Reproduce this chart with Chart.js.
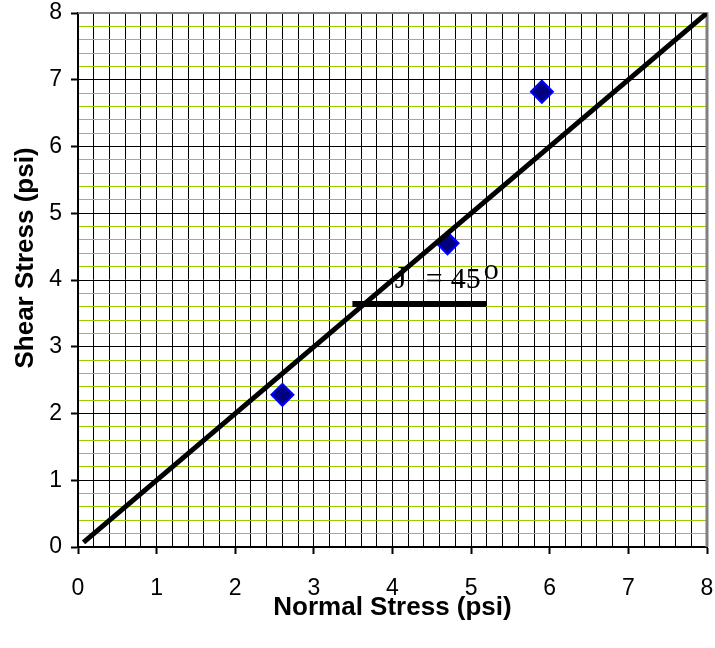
<!DOCTYPE html>
<html>
<head>
<meta charset="utf-8">
<script src="https://cdn.jsdelivr.net/npm/chart.js@4/dist/chart.umd.min.js"></script>
<style>
html,body{margin:0;padding:0;background:#fff;}
#wrap{width:715px;height:648px;}
</style>
</head>
<body>
<div id="wrap"><canvas id="c" width="715" height="648"></canvas></div>
<script>
// ---- data ----
const normalStress = [2.6, 4.7, 5.9];
const shearStress = [2.28, 4.55, 6.82];
const fitLineX = [0.07, 8];
const fitLineY = [0.07, 8];
const angleBarX = [3.49, 5.19];
const angleBarY = [3.64, 3.64];
const axisMin = 0, axisMax = 8, minorStep = 0.2;
const angleLabelPos = [4.03, 3.88];
const angleLabelText = ['J', '=', '45', 'o'];
const xTitle = 'Normal Stress (psi)';
const yTitle = 'Shear Stress (psi)';

const toPts = (xs, ys) => xs.map((x, i) => ({x: x, y: ys[i]}));
const isMajor = v => Math.abs(v - Math.round(v)) < 1e-6;

const tickFont = {family: '"Liberation Sans", Arial, sans-serif', size: 23, lineHeight: 1};
const titleFont = {family: '"Liberation Sans", Arial, sans-serif', size: 26, weight: 'bold'};

const frame = {
  id: 'frame',
  beforeDatasetsDraw(chart) {
    const {ctx, chartArea: a} = chart;
    ctx.save();
    ctx.strokeStyle = '#808080';
    ctx.lineWidth = 2;
    ctx.beginPath();
    ctx.moveTo(a.left, a.top);
    ctx.lineTo(a.right, a.top);
    ctx.stroke();
    ctx.lineWidth = 3;
    ctx.beginPath();
    ctx.moveTo(a.right, a.top - 1);
    ctx.lineTo(a.right, a.bottom);
    ctx.stroke();
    ctx.restore();
  },
  afterDatasetsDraw(chart) {
    const {ctx, scales, chartArea: a} = chart;
    const px = scales.x.getPixelForValue(angleLabelPos[0]);
    const py = scales.y.getPixelForValue(angleLabelPos[1]);
    ctx.save();
    ctx.fillStyle = '#000';
    ctx.textBaseline = 'alphabetic';
    ctx.textAlign = 'left';
    ctx.font = '31px "Liberation Serif", "Times New Roman", serif';
    ctx.fillText(angleLabelText[0], px, py);
    ctx.font = '30px "Liberation Serif", "Times New Roman", serif';
    ctx.fillText(angleLabelText[1], px + 31, py);
    ctx.fillText(angleLabelText[2], px + 56, py);
    ctx.font = '30px "Liberation Serif", "Times New Roman", serif';
    ctx.fillText(angleLabelText[3], px + 89, py - 9);
    ctx.restore();

    // vertical axis title
    ctx.save();
    ctx.fillStyle = '#000';
    ctx.font = 'bold 26px "Liberation Sans", Arial, sans-serif';
    ctx.textAlign = 'center';
    ctx.textBaseline = 'alphabetic';
    ctx.translate(33, (a.top + a.bottom) / 2 - 22);
    ctx.rotate(-Math.PI / 2);
    ctx.fillText(yTitle, 0, 0);
    ctx.restore();
  }
};

new Chart(document.getElementById('c'), {
  type: 'scatter',
  data: {
    datasets: [
      {
        label: 'Fit',
        data: toPts(fitLineX, fitLineY),
        showLine: true,
        borderColor: '#000',
        borderWidth: 5,
        pointRadius: 0,
        fill: false
      },
      {
        label: 'Angle',
        data: toPts(angleBarX, angleBarY),
        showLine: true,
        borderColor: '#000',
        borderWidth: 6,
        pointRadius: 0,
        borderCapStyle: 'butt',
        fill: false
      },
      {
        label: 'Data',
        data: toPts(normalStress, shearStress),
        pointStyle: 'rectRot',
        pointRadius: 11,
        pointBackgroundColor: '#000080',
        pointBorderColor: '#0000FF',
        pointBorderWidth: 2
      }
    ]
  },
  options: {
    responsive: false,
    animation: false,
    devicePixelRatio: 1,
    layout: {autoPadding: false, padding: {top: 13, right: 8, left: 0, bottom: 0}},
    plugins: {legend: {display: false}, tooltip: {enabled: false}},
    scales: {
      x: {
        type: 'linear',
        min: axisMin, max: axisMax,
        afterFit(s) { s.height = 101; s.paddingLeft = 0; s.paddingRight = 0; },
        ticks: {
          stepSize: minorStep, maxTicksLimit: 41, autoSkip: false,
          maxRotation: 0, minRotation: 0,
          padding: 23,
          color: '#000',
          font: tickFont,
          callback: v => isMajor(v) ? String(Math.round(v)) : ''
        },
        grid: {
          color: '#000',
          lineWidth: 1,
          drawTicks: true,
          tickLength: 7,
          tickWidth: 2,
          tickColor: c => (c.tick && isMajor(c.tick.value)) ? '#000' : 'rgba(0,0,0,0)'
        },
        border: {color: '#000', width: 2},
        title: {
          display: true, text: xTitle, color: '#000',
          font: titleFont, padding: {top: 0, bottom: 25}
        }
      },
      y: {
        type: 'linear',
        min: axisMin, max: axisMax,
        afterFit(s) { s.width = 78; s.paddingTop = 0; s.paddingBottom = 0; },
        ticks: {
          stepSize: minorStep, maxTicksLimit: 41, autoSkip: false,
          padding: 9,
          color: '#000',
          font: tickFont,
          callback: v => isMajor(v) ? String(Math.round(v)) : ''
        },
        grid: {
          color: c => (c.tick && isMajor(c.tick.value)) ? '#000' : '#99CC00',
          lineWidth: 1,
          drawTicks: true,
          tickLength: 7,
          tickWidth: 2,
          tickColor: c => (c.tick && isMajor(c.tick.value)) ? '#000' : 'rgba(0,0,0,0)'
        },
        border: {color: '#000', width: 2},
        title: {display: false}
      }
    }
  },
  plugins: [frame]
});
</script>
</body>
</html>
